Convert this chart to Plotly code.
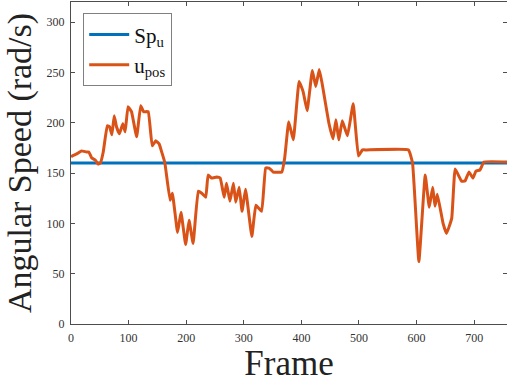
import plotly.graph_objects as go

frame = [0, 2, 10, 18, 27, 31, 36, 42, 47, 51, 56, 63, 67, 71, 75, 79, 84, 90, 94, 99,
         105, 114, 121, 126, 134, 141, 147, 153, 158, 163, 172, 176, 185, 191, 199, 205,
         212, 221, 227, 234, 238, 244, 253, 259, 266, 270, 276, 282, 286, 292, 297, 303,
         314, 321, 331, 338, 344, 351, 366, 371, 378, 386, 396, 403, 410, 419, 425, 431,
         436, 448, 455, 460, 465, 471, 480, 490, 499, 506, 513, 586, 593, 604, 615, 622,
         628, 632, 636, 646, 652, 661, 667, 678, 684, 691, 698, 703, 710, 717, 757]
u_pos = [166, 167, 169, 172, 171, 171, 165, 163, 159, 160, 171, 197, 196, 188, 207, 196,
         189, 199, 191, 216, 211, 186, 217, 211, 211, 177, 182, 179, 170, 160, 123, 130,
         91, 111, 79, 103, 80, 132, 130, 126, 148, 145, 146, 145, 126, 140, 122, 140, 121,
         136, 112, 134, 87, 118, 112, 155, 155, 151, 151, 165, 201, 183, 241, 231, 212,
         252, 236, 253, 239, 199, 184, 203, 183, 202, 187, 219, 167, 173, 173, 173, 160,
         62, 148, 116, 136, 117, 129, 100, 90, 105, 154, 142, 142, 151, 145, 152, 153, 161,
         161]
sp_u_value = 160
sp_u = [sp_u_value for _ in frame]

x_ticks = [0, 100, 200, 300, 400, 500, 600, 700]
y_ticks = [0, 50, 100, 150, 200, 250, 300]

SERIF = "Liberation Serif, Times New Roman, serif"
AX = "#4d4d4d"

fig = go.Figure()
fig.add_trace(go.Scatter(x=frame, y=sp_u, mode="lines", name="Sp<sub>u</sub>",
                         line=dict(color="#0072BD", width=3)))
fig.add_trace(go.Scatter(x=frame, y=u_pos, mode="lines", name="u<sub>pos</sub>",
                         line=dict(color="#D95319", width=3, shape="spline", smoothing=0.3)))

axis_common = dict(showline=True, linecolor=AX, linewidth=1, mirror="ticks",
                   ticks="inside", ticklen=4, tickcolor=AX, showgrid=False, zeroline=False,
                   tickfont=dict(family=SERIF, size=12, color="#333333"))
fig.update_xaxes(range=[0, 757], tickvals=x_ticks, ticklabelstandoff=3,
                 title=dict(text="Frame", font=dict(family=SERIF, size=35, color="#222222"),
                            standoff=2),
                 **axis_common)
fig.update_yaxes(range=[0, 320], tickvals=y_ticks, ticklabelstandoff=3,
                 title=dict(text="Angular Speed (rad/s)",
                            font=dict(family=SERIF, size=34, color="#222222"), standoff=4),
                 **axis_common)

fig.update_layout(
    width=507, height=383,
    margin=dict(l=71, r=0, t=2, b=59),
    plot_bgcolor="white", paper_bgcolor="white",
    showlegend=True,
    legend=dict(x=0.028, y=0.965, xanchor="left", yanchor="top",
                bgcolor="white", bordercolor="#808080", borderwidth=1,
                font=dict(family=SERIF, size=21, color="#111111"),
                itemwidth=40, tracegroupgap=2),
)

fig.write_html("out.html")
